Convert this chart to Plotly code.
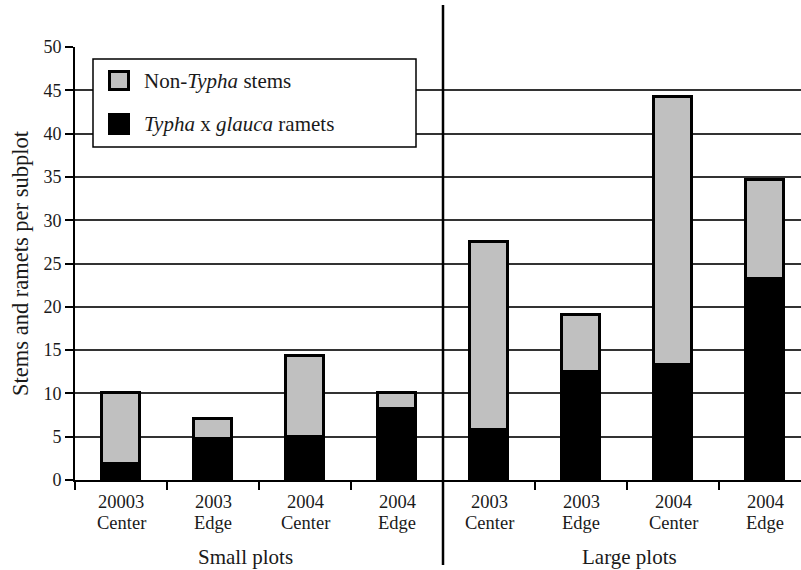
import plotly.graph_objects as go

# Categories (four small-plot groups, then four large-plot groups)
years = ["20003", "2003", "2004", "2004", "2003", "2003", "2004", "2004"]
locations = ["Center", "Edge", "Center", "Edge", "Center", "Edge", "Center", "Edge"]
typha_ramets = [1.8, 4.7, 5.0, 8.2, 5.8, 12.5, 13.3, 23.2]
non_typha_stems = [8.3, 2.4, 9.3, 1.9, 21.7, 6.5, 30.9, 11.5]
y_ticks = [0, 5, 10, 15, 20, 25, 30, 35, 40, 45, 50]
group_labels = ["Small plots", "Large plots"]

FONT = "Liberation Serif"
TEXT = "#1a1a1a"
GRAY = "#c0c0c0"
positions = list(range(len(years)))

fig = go.Figure()
fig.add_trace(go.Bar(
    x=positions, y=typha_ramets, width=0.42,
    marker=dict(color="black", line=dict(color="black", width=3)),
    showlegend=False,
))
fig.add_trace(go.Bar(
    x=positions, y=non_typha_stems, width=0.42,
    marker=dict(color=GRAY, line=dict(color="black", width=3)),
    showlegend=False,
))

# plot area spans x 75..801 px; each category slot is 92 px wide
W, H = 801, 570
L, R, T, B = 75, 0, 47, 90
pw, ph = W - L - R, H - T - B
slot = 92.0
x_max = -0.5 + pw / slot


def px(xp):
    return (xp - L) / pw


def py(yp):
    return (H - B - yp) / ph


fig.update_layout(
    width=W, height=H,
    margin=dict(l=L, r=R, t=T, b=B, pad=0),
    barmode="stack",
    plot_bgcolor="white", paper_bgcolor="white",
    font=dict(family=FONT, size=18, color=TEXT),
    xaxis=dict(
        range=[-0.5, x_max],
        tickmode="array", tickvals=positions, ticktext=[""] * len(positions),
        ticks="", showgrid=False, zeroline=False,
        showline=True, linecolor="black", linewidth=2,
        minor=dict(tickmode="array",
                   tickvals=[p - 0.5 for p in positions] + [positions[-1] + 0.5],
                   ticks="outside", ticklen=8, tickwidth=1.5, tickcolor="black",
                   showgrid=False),
    ),
    yaxis=dict(
        range=[0, 50], tickmode="array", tickvals=y_ticks,
        ticks="outside", ticklen=8, tickwidth=1.5, tickcolor="black",
        showgrid=True, gridcolor="#333333", gridwidth=1.5,
        zeroline=False, showline=True, linecolor="black", linewidth=2,
        tickfont=dict(family=FONT, size=18, color=TEXT),
        title=dict(text="Stems and ramets per subplot",
                   font=dict(family=FONT, size=22.5, color=TEXT), standoff=9),
    ),
    bargap=0,
)

shapes = []
# divider between small and large plots
shapes.append(dict(type="line", xref="x", yref="paper", x0=3.5, x1=3.5,
                   y0=py(565), y1=py(5), line=dict(color="black", width=2.5)))
# legend box
shapes.append(dict(type="rect", xref="paper", yref="paper",
                   x0=px(93), x1=px(416), y0=py(147), y1=py(59),
                   fillcolor="white", line=dict(color="black", width=1.5)))
# legend swatches
shapes.append(dict(type="rect", xref="paper", yref="paper",
                   x0=px(109.5), x1=px(128.5), y0=py(89.5), y1=py(71.5),
                   fillcolor=GRAY, line=dict(color="black", width=3)))
shapes.append(dict(type="rect", xref="paper", yref="paper",
                   x0=px(109.5), x1=px(128.5), y0=py(133.5), y1=py(114.5),
                   fillcolor="black", line=dict(color="black", width=3)))
fig.update_layout(shapes=shapes)

annotations = [
    dict(text="Non-<i>Typha</i> stems", xref="paper", yref="paper",
         x=px(142), y=py(81), xanchor="left", yanchor="middle", showarrow=False,
         font=dict(family=FONT, size=21, color=TEXT)),
    dict(text="<i>Typha</i> x <i>glauca</i> ramets", xref="paper", yref="paper",
         x=px(142), y=py(124), xanchor="left", yanchor="middle", showarrow=False,
         font=dict(family=FONT, size=21, color=TEXT)),
    dict(text=group_labels[0], xref="x", yref="paper", x=1.35, y=py(557),
         xanchor="center", yanchor="middle", showarrow=False,
         font=dict(family=FONT, size=21, color=TEXT)),
    dict(text=group_labels[1], xref="x", yref="paper", x=5.53, y=py(557),
         xanchor="center", yanchor="middle", showarrow=False,
         font=dict(family=FONT, size=21, color=TEXT)),
]
# two-row category labels (year above location), tightly spaced
for pos, yr, loc in zip(positions, years, locations):
    annotations.append(dict(text=yr, xref="x", yref="paper", x=pos, y=py(502),
                            xanchor="center", yanchor="middle", showarrow=False,
                            font=dict(family=FONT, size=18.5, color=TEXT)))
    annotations.append(dict(text=loc, xref="x", yref="paper", x=pos, y=py(522.5),
                            xanchor="center", yanchor="middle", showarrow=False,
                            font=dict(family=FONT, size=18.5, color=TEXT)))
fig.update_layout(annotations=annotations)

fig.write_html("out.html")
